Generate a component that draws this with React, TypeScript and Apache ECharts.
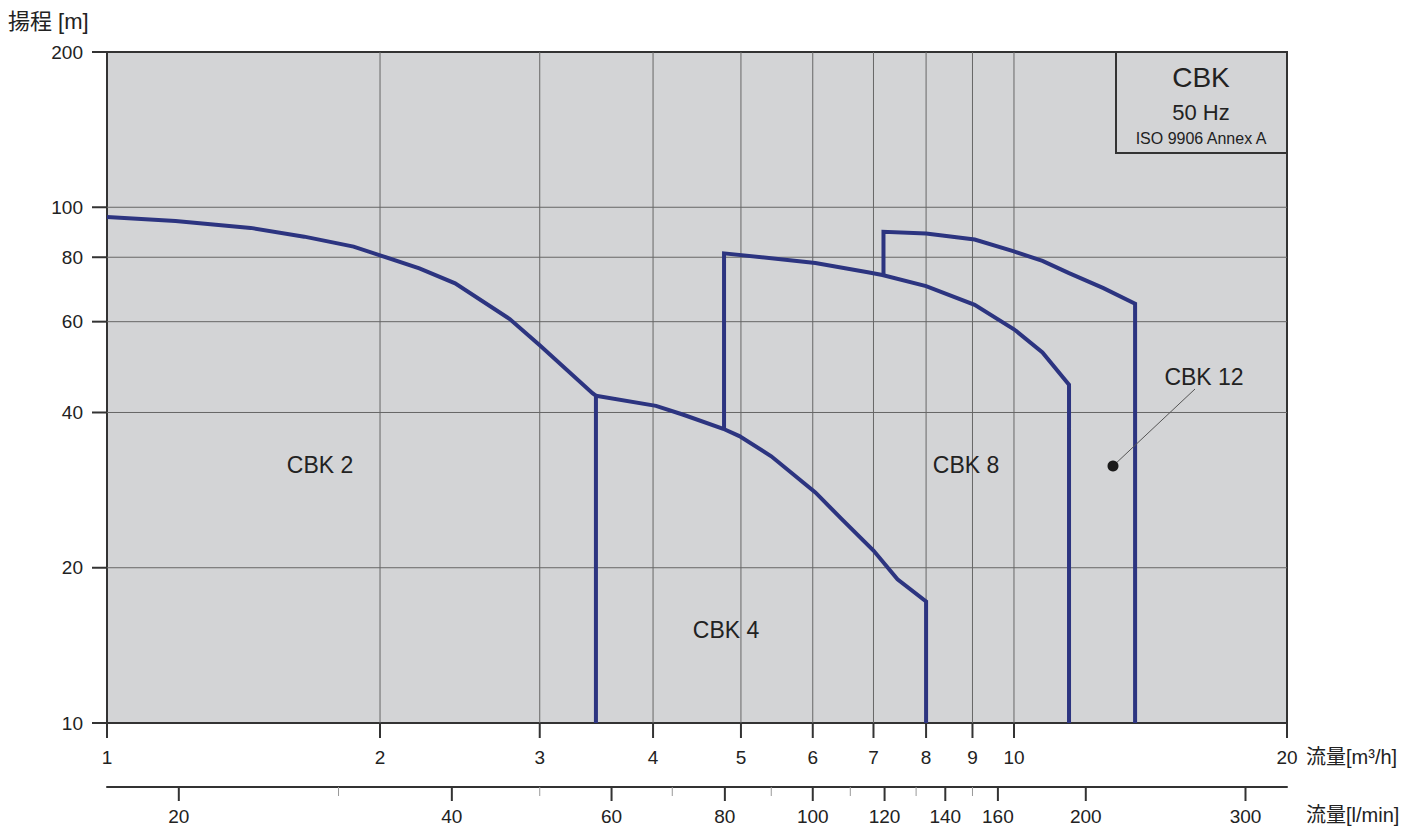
import React, { useEffect, useRef } from "react";
import * as echarts from "echarts";

// Axis ticks
const Q_TICKS = [1, 2, 3, 4, 5, 6, 7, 8, 9, 10, 20]; // m3/h
const H_TICKS = [10, 20, 40, 60, 80, 100, 200]; // m
const LMIN_MAJOR = [20, 40, 60, 80, 100, 120, 140, 160, 200, 300];
const LMIN_MINOR = [30, 50, 70, 90, 110, 130, 150];
const LMIN_PER_M3H = 1000 / 60;

// Pump curves [Q m3/h, H m]
const CBK2 = [
  [1, 95.7], [1.19, 94], [1.44, 91.2], [1.65, 87.7], [1.87, 83.9], [2, 80.7],
  [2.21, 76.1], [2.42, 71.2], [2.78, 60.7], [3.0, 54], [3.43, 43.6], [3.46, 43.1], [3.46, 10],
];
const CBK4 = [
  [3.46, 43.1], [4.03, 41.2], [4.32, 39.6], [4.78, 37.2], [4.98, 36], [5.4, 32.9],
  [6.04, 28], [6.45, 24.9], [7.0, 21.6], [7.44, 19], [8, 17.2], [8, 10],
];
const CBK8 = [
  [4.79, 37.2], [4.79, 81.4], [6.04, 78], [6.9, 74.8], [7.16, 73.9], [8, 70.3],
  [9.05, 64.7], [10, 58], [10.75, 52.3], [11.5, 45.3], [11.5, 10],
];
const CBK12 = [
  [7.18, 73.9], [7.18, 89.6], [8, 88.9], [9.05, 86.6], [10, 82.1], [10.75, 78.7],
  [11.5, 74.5], [12.55, 69.7], [13.6, 65], [13.6, 10],
];

const FONT = '"Liberation Sans", Arial, "Noto Sans CJK JP", sans-serif';
const TXT = "#222";
const LINE = "#2c3480";
const GRIDC = "#666";

function txt(x: number, y: number, text: string, size: number, align = "center") {
  return {
    type: "text",
    x,
    y,
    style: {
      text,
      fill: TXT,
      font: `${size}px ${FONT}`,
      align,
      verticalAlign: "middle",
      textAlign: align,
      textVerticalAlign: "middle",
    },
  };
}

export default function App() {
  const ref = useRef<HTMLDivElement>(null);
  useEffect(() => {
    if (!ref.current) return;
    const chart = echarts.init(ref.current, undefined, { renderer: "svg" });
    const curve = (name: string, data: number[][]) => ({
      name,
      type: "line",
      data,
      showSymbol: false,
      symbol: "none",
      z: 5,
      lineStyle: { color: LINE, width: 4, join: "miter" },
      silent: true,
    });
    chart.setOption({
      animation: false,
      grid: {
        left: 107,
        top: 52,
        width: 1180,
        height: 671,
        show: true,
        backgroundColor: "#d3d4d6",
        borderColor: "#333",
        borderWidth: 2,
      },
      xAxis: [
        {
          type: "log",
          logBase: 10,
          min: 1,
          max: 20,
          axisLine: { show: true, lineStyle: { color: "#333", width: 2 } },
          axisTick: { show: false },
          axisLabel: { show: false },
          splitLine: { show: false },
        },
        {
          type: "log",
          logBase: 10,
          min: LMIN_PER_M3H,
          max: 20 * LMIN_PER_M3H,
          position: "bottom",
          offset: 64,
          axisLine: { show: true, onZero: false, lineStyle: { color: "#333", width: 2 } },
          axisTick: { show: false },
          axisLabel: { show: false },
          splitLine: { show: false },
        },
      ],
      yAxis: {
        type: "log",
        logBase: 10,
        min: 10,
        max: 200,
        axisLine: { show: true, lineStyle: { color: "#333", width: 2 } },
        axisTick: { show: false },
        axisLabel: { show: false },
        splitLine: { show: false },
      },
      series: [
        {
          type: "custom",
          name: "qTicks",
          xAxisIndex: 0,
          yAxisIndex: 0,
          z: 1,
          silent: true,
          data: Q_TICKS.map((v) => [v, 10]),
          renderItem: (params: any, api: any) => {
            const v = api.value(0);
            const bot = api.coord([v, 10]);
            const top = api.coord([v, 200]);
            const children: any[] = [];
            if (v !== 1 && v !== 20) {
              children.push({
                type: "line",
                shape: { x1: bot[0], y1: bot[1], x2: top[0], y2: top[1] },
                style: { stroke: GRIDC, lineWidth: 1 },
              });
            }
            children.push({
              type: "line",
              shape: { x1: bot[0], y1: bot[1], x2: bot[0], y2: bot[1] + 15 },
              style: { stroke: "#333", lineWidth: 2 },
            });
            children.push(txt(bot[0], bot[1] + 34, String(v), 19));
            return { type: "group", children };
          },
        },
        {
          type: "custom",
          name: "hTicks",
          xAxisIndex: 0,
          yAxisIndex: 0,
          z: 1,
          silent: true,
          data: H_TICKS.map((v) => [1, v]),
          renderItem: (params: any, api: any) => {
            const v = api.value(1);
            const l = api.coord([1, v]);
            const r = api.coord([20, v]);
            const children: any[] = [];
            if (v !== 10 && v !== 200) {
              children.push({
                type: "line",
                shape: { x1: l[0], y1: l[1], x2: r[0], y2: r[1] },
                style: { stroke: GRIDC, lineWidth: 1 },
              });
            }
            children.push({
              type: "line",
              shape: { x1: l[0] - 15, y1: l[1], x2: l[0], y2: l[1] },
              style: { stroke: "#333", lineWidth: 2 },
            });
            children.push(txt(l[0] - 24, l[1], String(v), 19, "right"));
            return { type: "group", children };
          },
        },
        {
          type: "custom",
          name: "lminMajor",
          xAxisIndex: 1,
          yAxisIndex: 0,
          z: 1,
          silent: true,
          data: LMIN_MAJOR.map((v) => [v, 10]),
          renderItem: (params: any, api: any) => {
            const v = api.value(0);
            const p = api.coord([v, 10]);
            const y0 = p[1] + 64;
            return {
              type: "group",
              children: [
                {
                  type: "line",
                  shape: { x1: p[0], y1: y0, x2: p[0], y2: y0 + 14 },
                  style: { stroke: "#333", lineWidth: 2 },
                },
                txt(p[0], y0 + 29, String(v), 19),
              ],
            };
          },
        },
        {
          type: "custom",
          name: "lminMinor",
          xAxisIndex: 1,
          yAxisIndex: 0,
          z: 1,
          silent: true,
          data: LMIN_MINOR.map((v) => [v, 10]),
          renderItem: (params: any, api: any) => {
            const v = api.value(0);
            const p = api.coord([v, 10]);
            const y0 = p[1] + 64;
            return {
              type: "line",
              shape: { x1: p[0], y1: y0, x2: p[0], y2: y0 + 9 },
              style: { stroke: "#999", lineWidth: 1 },
            };
          },
        },
        curve("CBK 2", CBK2),
        curve("CBK 4", CBK4),
        curve("CBK 8", CBK8),
        curve("CBK 12", CBK12),
      ],
      graphic: [
        txt(8, 21, "揚程 [m]", 22, "left"),
        txt(1306, 757, "流量[m³/h]", 20, "left"),
        txt(1306, 815, "流量[l/min]", 20, "left"),
        {
          type: "rect",
          shape: { x: 1116, y: 52, width: 171, height: 101 },
          style: { fill: "#d3d4d6", stroke: "#333", lineWidth: 2 },
          z: 10,
        },
        { ...txt(1201, 77, "CBK", 28), z: 11 },
        { ...txt(1201, 112, "50 Hz", 22), z: 11 },
        { ...txt(1201, 138, "ISO 9906 Annex A", 16), z: 11 },
        { ...txt(320, 465, "CBK 2", 23), z: 11 },
        { ...txt(726, 630, "CBK 4", 23), z: 11 },
        { ...txt(966, 465, "CBK 8", 23), z: 11 },
        { ...txt(1204, 377, "CBK 12", 23), z: 11 },
        {
          type: "line",
          shape: { x1: 1113, y1: 466, x2: 1195, y2: 389 },
          style: { stroke: "#555", lineWidth: 1 },
          z: 11,
        },
        {
          type: "circle",
          shape: { cx: 1113, cy: 466, r: 5.5 },
          style: { fill: "#1a1a1a" },
          z: 12,
        },
      ],
    });
    return () => chart.dispose();
  }, []);
  return (
    <div
      ref={ref}
      style={{ position: "fixed", left: 0, top: 0, width: 1426, height: 833, background: "#fff" }}
    />
  );
}
